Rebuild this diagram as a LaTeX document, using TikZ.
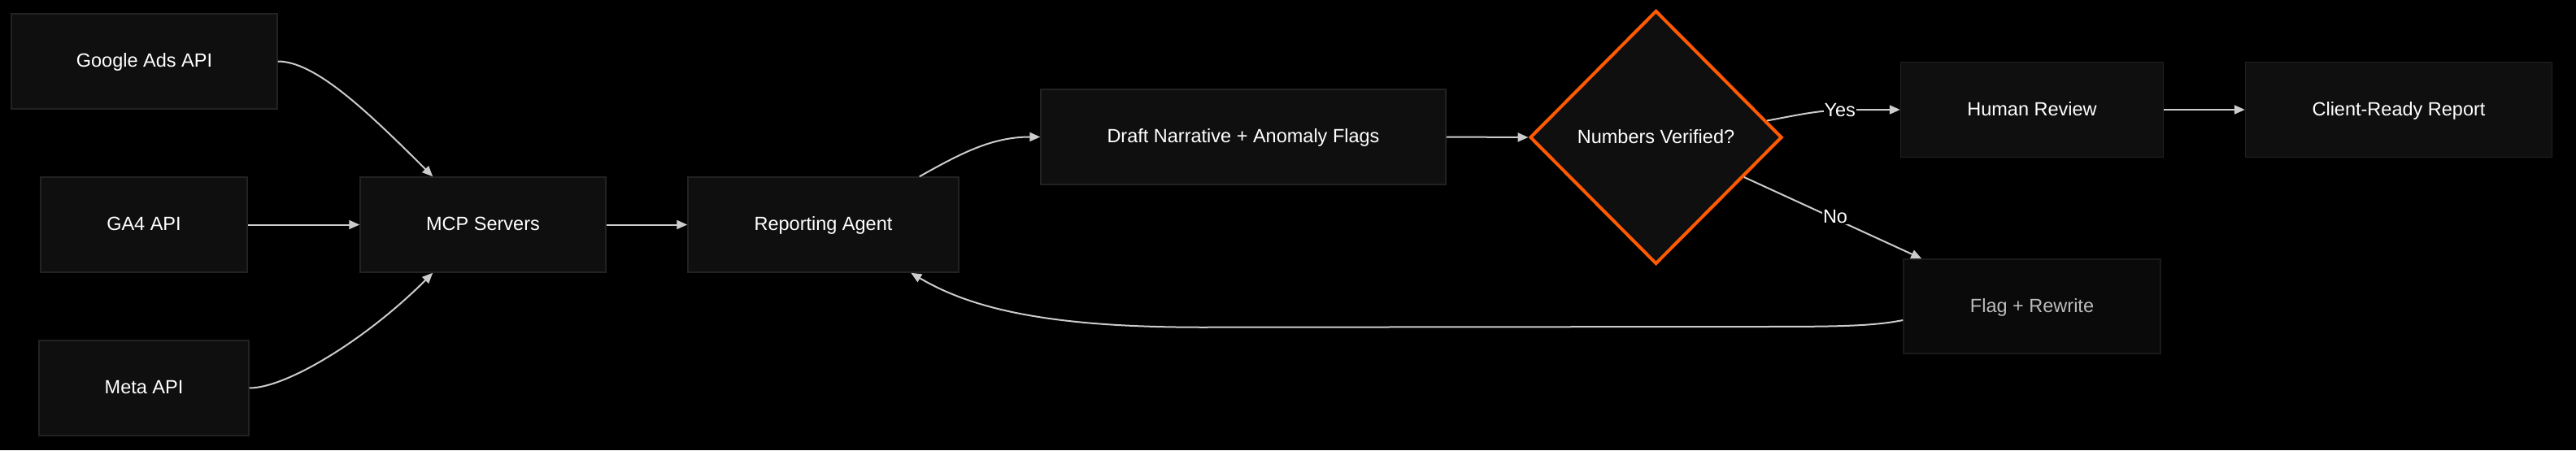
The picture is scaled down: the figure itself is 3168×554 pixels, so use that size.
\documentclass[tikz,border=0pt]{standalone}
\usepackage{fontspec}
\setmainfont{Liberation Sans}
\usetikzlibrary{shapes.geometric,arrows.meta,calc}
\definecolor{boxfill}{HTML}{0F0F0F}
\definecolor{boxline}{HTML}{222222}
\definecolor{edgecol}{HTML}{CCCCCC}
\definecolor{orng}{HTML}{FF5A00}
\definecolor{dimfill}{HTML}{0A0A0A}
\definecolor{dimline}{HTML}{1A1A1A}
\definecolor{dimtext}{HTML}{BBBBBB}
\begin{document}
\begin{tikzpicture}[x=1pt,y=-1pt,
  box/.style={rectangle, draw=boxline, line width=1.5pt, fill=boxfill, text=white,
    font=\fontsize{23.5}{28}\selectfont, minimum height=117pt, inner sep=0pt,
    text height=16pt, text depth=1.2pt},
  dimbox/.style={box, draw=dimline, fill=dimfill, text=dimtext},
  decision/.style={diamond, draw=orng, line width=4pt, fill=boxfill, text=white,
    font=\fontsize{23.5}{28}\selectfont, inner sep=0pt, minimum width=310pt, minimum height=312pt,
    text height=16pt, text depth=1.2pt},
  flow/.style={draw=edgecol, line width=2pt, -{Triangle[length=13pt,width=11pt]}},
  lbl/.style={fill=black, text=white, font=\fontsize{23.5}{28}\selectfont, inner sep=1pt}]
\fill[black] (0,0) rectangle (3168,554);
\useasboundingbox (0,0) rectangle (3168,554);

\node[box, minimum width=327pt] (ga) at (177.5,75.5) {Google Ads API};
\node[box, minimum width=254pt] (ga4) at (177,276.5) {GA4 API};
\node[box, minimum width=258pt] (meta) at (177,477.5) {Meta API};
\node[box, minimum width=302pt] (mcp) at (594,276.5) {MCP Servers};
\node[box, minimum width=333pt] (ra) at (1012.5,276.5) {Reporting Agent};
\node[box, minimum width=498pt] (draft) at (1529,168.5) {Draft Narrative + Anomaly Flags};
\node[decision] (dia) at (2036.5,169) {Numbers Verified?};
\node[box, minimum width=323pt] (hr) at (2499,135) {Human Review};
\node[box, minimum width=377pt] (cr) at (2950,135) {Client-Ready Report};
\node[dimbox, minimum width=316pt, minimum height=116pt] (fr) at (2499,377) {Flag + Rewrite};

\draw[flow] (ga.east) .. controls ($(ga.east)+(45,0)$) and ($(mcp.north west)+(7,-83)$) .. ($(mcp.north west)+(90,0)$);
\draw[flow] (ga4.east) -- (mcp.west);
\draw[flow] (meta.east) .. controls ($(meta.east)+(45,0)$) and ($(mcp.south west)+(7,83)$) .. ($(mcp.south west)+(90,0)$);
\draw[flow] (mcp.east) -- (ra.west);
\draw[flow] ($(ra.north east)+(-49,0)$) .. controls ($(ra.north east)+(1,-28)$) and ($(draft.west)+(-60,0)$) .. (draft.west);
\draw[flow] (draft.east) -- (dia.west);
\draw[flow] ($(dia.east)!0.13!(dia.north)$) .. controls ($(hr.west)+(-122,6)$) and ($(hr.west)+(-100,0)$) .. ($(hr.west)+(-57,0)$) -- (hr.west);
\draw[flow] ($(dia.east)!0.31!(dia.south)$) -- ($(fr.north west)+(23,0)$);
\draw[flow] (hr.east) -- (cr.west);
\draw[flow] ($(fr.west)+(0,17)$) .. controls ($(fr.west)+(-40,25)$) and ($(fr.west)+(-90,25)$) .. ($(fr.west)+(-190,25)$)
  -- ($(ra.south east)+(300,67)$) .. controls ($(ra.south east)+(120,67)$) and ($(ra.south west)+(354,47)$) .. ($(ra.south west)+(275,0)$);

\node[lbl] (yes) at ($(hr.west)+(-74,1)$) {Yes};
\node[lbl] (no) at (2257,267) {No};
\end{tikzpicture}
\end{document}
